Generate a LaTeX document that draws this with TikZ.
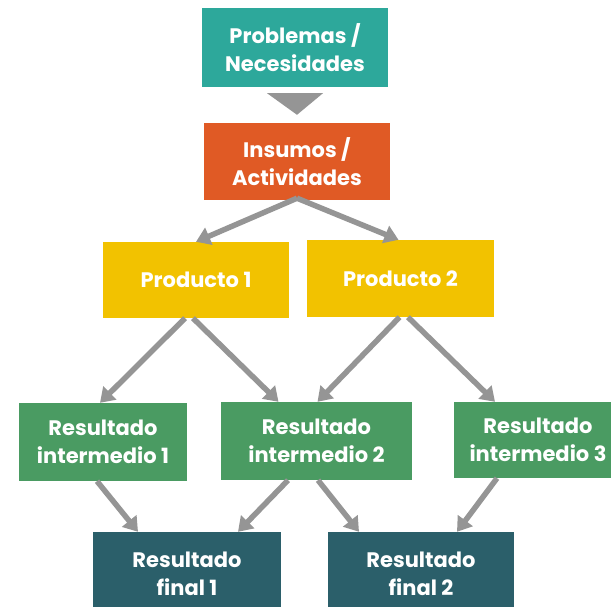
\documentclass[tikz,border=0pt]{standalone}
\usepackage{fontspec}
\setmainfont{Poppins}
\usetikzlibrary{arrows.meta,calc}
\definecolor{cteal}{HTML}{2DA89B}
\definecolor{corange}{HTML}{E05A25}
\definecolor{cyellow}{HTML}{F2C200}
\definecolor{cgreen}{HTML}{4A9B62}
\definecolor{cdark}{HTML}{2B5F6A}
\definecolor{carrow}{HTML}{959595}
\tikzset{
  box/.style={rectangle, inner sep=0pt, align=center, text=white,
    font=\fontsize{21}{28}\selectfont\bfseries},
  conn/.style={draw=carrow, line width=5.5pt, -{Triangle[length=14pt,width=18pt]}},
}
\begin{document}
\begin{tikzpicture}[x=1pt,y=-1pt]
\useasboundingbox (0,0) rectangle (611,607);
\node[box, fill=cteal, minimum width=186pt, minimum height=79pt] (P) at (295,47.5) {Problemas /\\Necesidades};
\node[box, fill=corange, minimum width=186pt, minimum height=77pt] (I) at (297,161.5) {Insumos /\\Actividades};
\node[box, fill=cyellow, minimum width=186pt, minimum height=76pt] (P1) at (196,280) {Producto 1};
\node[box, fill=cyellow, minimum width=187pt, minimum height=77pt] (P2) at (400.5,278.5) {Producto 2};
\node[box, fill=cgreen, minimum width=168pt, minimum height=78pt] (R1) at (103,442) {Resultado\\intermedio 1};
\node[box, fill=cgreen, minimum width=191pt, minimum height=78pt] (R2) at (316.5,441) {Resultado\\intermedio 2};
\node[box, fill=cgreen, minimum width=168pt, minimum height=76pt] (R3) at (538,440) {Resultado\\intermedio 3};
\node[box, fill=cdark, minimum width=188pt, minimum height=83pt] (F1) at (187,573.5) {Resultado\\final 1};
\node[box, fill=cdark, minimum width=186pt, minimum height=83pt] (F2) at (421,573.5) {Resultado\\final 2};
% big triangle between P and I
\fill[carrow] ($(P.south)+(-28,6)$) -- ($(P.south)+(28,6)$) -- ($(I.north)+(0,-8)$) -- cycle;
% connectors
\draw[conn] ($(I.south)+(0,-2)$) -- (P1.north);
\draw[conn] ($(I.south)+(0,-2)$) -- ($(P2.north)+(-2,0)$);
\draw[conn] ($(P1.south)+(-11,0)$) -- ($(R1.north)+(-3,0)$);
\draw[conn] ($(P1.south)+(-3,0)$) -- ($(R2.north)+(-38,0)$);
\draw[conn] ($(P2.south)+(-1,0)$) -- ($(R2.north)+(1,0)$);
\draw[conn] ($(P2.south)+(7.5,0)$) -- ($(R3.north)+(-43,0)$);
\draw[conn] ($(R1.south)+(-6,0)$) -- ($(F1.north)+(-49,0)$);
\draw[conn] ($(R2.south)+(-28.5,0)$) -- ($(F1.north)+(51,0)$);
\draw[conn] ($(R2.south)+(1.5,0)$) -- ($(F2.north)+(-62,0)$);
\draw[conn] ($(R3.south)+(-41,0)$) -- ($(F2.north)+(36,0)$);
\end{tikzpicture}
\end{document}
